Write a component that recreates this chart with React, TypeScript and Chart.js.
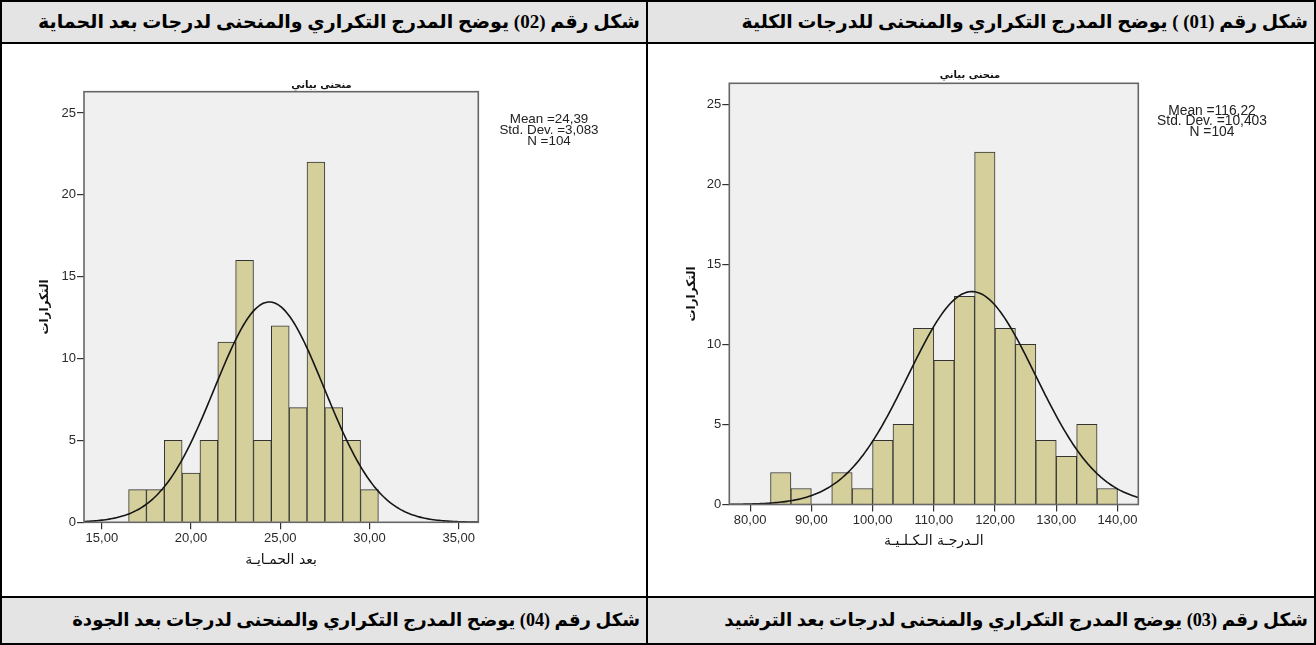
import React, { useEffect, useRef } from "react";
import { Chart, registerables } from "chart.js";

Chart.register(...registerables);

// ---- بعد الحماية (protection dimension), bins of width 1 ----
const PROTECTION_BIN_CENTERS = [17, 18, 19, 20, 21, 22, 23, 24, 25, 26, 27, 28, 29, 30];
const PROTECTION_COUNTS = [2, 2, 5, 3, 5, 11, 16, 5, 12, 7, 22, 7, 5, 2];
const PROTECTION_BIN_WIDTH = 1;
const PROTECTION_MEAN = 24.39;
const PROTECTION_SD = 3.083;
const PROTECTION_N = 104;

// ---- الدرجة الكلية (total score), bins of width 10/3 ----
const TOTAL_BIN_CENTERS = [
  85, 88.3333, 91.6667, 95, 98.3333, 101.6667, 105, 108.3333, 111.6667,
  115, 118.3333, 121.6667, 125, 128.3333, 131.6667, 135, 138.3333,
];
const TOTAL_COUNTS = [2, 1, 0, 2, 1, 4, 5, 11, 9, 13, 22, 11, 10, 4, 3, 5, 1];
const TOTAL_BIN_WIDTH = 10 / 3;
const TOTAL_MEAN = 116.22;
const TOTAL_SD = 10.403;
const TOTAL_N = 104;

// ---- table captions ----
const CAPTION_TOP_LEFT = "شكل رقم (02) يوضح المدرج التكراري والمنحنى لدرجات بعد الحماية";
const CAPTION_TOP_RIGHT = "شكل رقم (01) ) يوضح المدرج التكراري والمنحنى للدرجات الكلية";
const CAPTION_BOTTOM_LEFT = "شكل رقم (04) يوضح المدرج التكراري والمنحنى لدرجات بعد الجودة";
const CAPTION_BOTTOM_RIGHT = "شكل رقم (03) يوضح المدرج التكراري والمنحنى لدرجات بعد الترشيد";

const CHART_TITLE = "منحنى بياني";
const Y_TITLE = "التكرارات";
const PROTECTION_X_TITLE = "بعد الحمـايـة";
const TOTAL_X_TITLE = "الـدرجـة الـكـلـيـة";

const PLOT_BG = "#f0f0f0";
const PLOT_EDGE = "#666666";
const BAR_FILL = "#d4cf9b";
const BAR_EDGE = "#333333";
const HEADER_BG = "#e4e4e4";
const LATIN_FONT = "'Liberation Sans', Arial, sans-serif";
const ARABIC_FONT = "'DejaVu Sans', sans-serif";

const comma = (v: number, d: number) => v.toFixed(d).replace(".", ",");

// Normal curve scaled to the histogram's counts (N * bin width * pdf)
function normalCurve(mean: number, sd: number, n: number, binWidth: number, x0: number, x1: number) {
  const pts: { x: number; y: number }[] = [];
  const steps = 220;
  const k = (n * binWidth) / (sd * Math.sqrt(2 * Math.PI));
  for (let i = 0; i <= steps; i++) {
    const x = x0 + ((x1 - x0) * i) / steps;
    const z = (x - mean) / sd;
    pts.push({ x, y: k * Math.exp(-0.5 * z * z) });
  }
  return pts;
}

type Area = { left: number; top: number; right: number; bottom: number };

type HistProps = {
  bins: number[];
  counts: number[];
  binWidth: number;
  mean: number;
  sd: number;
  n: number;
  xMin: number;
  xMax: number;
  xStep: number;
  yMax: number;
  xTitle: string;
  width: number;
  height: number;
  area: Area;
  yTitleX: number;
  xTitleY: number;
  titleAt: [number, number];
  titleSize: number;
  statsAt: [number, number];
  statsSize: number;
  statsGap: number;
  tickSize: number;
  style: React.CSSProperties;
};

function Histogram(p: HistProps) {
  const ref = useRef<HTMLCanvasElement | null>(null);

  useEffect(() => {
    if (!ref.current) return;
    const curve = normalCurve(p.mean, p.sd, p.n, p.binWidth, p.xMin, p.xMax);
    const statsLines = [
      `Mean =${comma(p.mean, 2)}`,
      `Std. Dev. =${comma(p.sd, 3)}`,
      `N =${p.n}`,
    ];

    const framePlugin = {
      id: "plotFrame",
      beforeDraw(chart: any) {
        const { ctx, chartArea: a } = chart;
        ctx.save();
        ctx.fillStyle = PLOT_BG;
        ctx.fillRect(a.left, a.top, a.right - a.left, a.bottom - a.top);
        ctx.restore();
      },
      afterDatasetsDraw(chart: any) {
        const { ctx, chartArea: a } = chart;
        ctx.save();
        ctx.strokeStyle = PLOT_EDGE;
        ctx.lineWidth = 1.6;
        ctx.strokeRect(a.left, a.top, a.right - a.left, a.bottom - a.top);
        ctx.restore();
      },
    };

    const textPlugin = {
      id: "chartTexts",
      afterDraw(chart: any) {
        const { ctx } = chart;
        ctx.save();
        ctx.fillStyle = "#111";
        ctx.textAlign = "center";
        ctx.textBaseline = "middle";
        ctx.font = `bold ${p.titleSize}px ${ARABIC_FONT}`;
        ctx.fillText(CHART_TITLE, p.titleAt[0], p.titleAt[1]);
        ctx.fillStyle = "#222";
        ctx.font = `${p.statsSize}px ${LATIN_FONT}`;
        statsLines.forEach((s, i) => ctx.fillText(s, p.statsAt[0], p.statsAt[1] + i * p.statsGap));
        ctx.restore();
      },
    };

    const tickFont = { family: LATIN_FONT, size: p.tickSize };
    const xTitleSize = 14;
    const yTitleSize = 12;

    const chart = new Chart(ref.current, {
      type: "bar",
      data: {
        datasets: [
          {
            type: "line",
            data: curve,
            borderColor: "#151515",
            borderWidth: 1.6,
            pointRadius: 0,
            tension: 0,
            fill: false,
            order: 0,
          } as any,
          {
            type: "bar",
            data: p.bins.map((b, i) => ({ x: b, y: p.counts[i] })),
            backgroundColor: BAR_FILL,
            borderColor: BAR_EDGE,
            borderWidth: 1,
            barPercentage: 1,
            categoryPercentage: 1,
            order: 1,
          } as any,
        ],
      },
      options: {
        responsive: false,
        animation: false,
        devicePixelRatio: 1,
        events: [],
        layout: {
          padding: { left: 0, top: p.area.top, right: p.width - p.area.right, bottom: 0 },
        },
        plugins: {
          legend: { display: false },
          tooltip: { enabled: false },
          title: { display: false },
        },
        scales: {
          x: {
            type: "linear",
            min: p.xMin,
            max: p.xMax,
            offset: false,
            afterFit: (s: any) => {
              s.height = p.height - p.area.bottom;
            },
            border: { display: false },
            grid: {
              offset: false,
              drawOnChartArea: false,
              drawTicks: true,
              tickLength: 7,
              color: "#333",
              lineWidth: 1.2,
            },
            ticks: {
              stepSize: p.xStep,
              includeBounds: false,
              padding: 1,
              color: "#2a2a2a",
              font: tickFont,
              maxRotation: 0,
              callback: (v: any) => comma(Number(v), 2),
            },
            title: {
              display: true,
              text: p.xTitle,
              color: "#111",
              font: { family: ARABIC_FONT, size: xTitleSize },
              padding: { top: 0, bottom: p.height - p.xTitleY - (xTitleSize * 1.2) / 2 },
            },
          } as any,
          y: {
            type: "linear",
            min: 0,
            max: p.yMax,
            afterFit: (s: any) => {
              s.width = p.area.left;
            },
            border: { display: false },
            grid: {
              drawOnChartArea: false,
              drawTicks: true,
              tickLength: 7,
              color: "#333",
              lineWidth: 1.2,
            },
            ticks: {
              stepSize: 5,
              includeBounds: false,
              padding: 1,
              color: "#2a2a2a",
              font: tickFont,
              callback: (v: any) => String(v),
            },
            title: {
              display: true,
              text: Y_TITLE,
              color: "#111",
              font: { family: ARABIC_FONT, size: yTitleSize, weight: "bold" },
              padding: { top: p.yTitleX - (yTitleSize * 1.2) / 2, bottom: 0 },
            },
          } as any,
        },
      },
      plugins: [framePlugin, textPlugin],
    });

    return () => chart.destroy();
  }, []);

  return <canvas ref={ref} width={p.width} height={p.height} style={{ position: "absolute", ...p.style }} />;
}

function Caption({ text, left, top, width, height, size }: { text: string; left: number; top: number; width: number; height: number; size: number }) {
  return (
    <div
      style={{
        position: "absolute",
        left,
        top,
        width,
        height,
        background: HEADER_BG,
        direction: "rtl",
        textAlign: "right",
        boxSizing: "border-box",
        paddingRight: 6,
        lineHeight: `${height}px`,
        fontFamily: "'Liberation Serif', 'DejaVu Sans', serif",
        fontWeight: "bold",
        fontSize: size,
        color: "#000",
        whiteSpace: "nowrap",
      }}
    >
      {text}
    </div>
  );
}

function Rule({ x, y, w, h }: { x: number; y: number; w: number; h: number }) {
  return <div style={{ position: "absolute", left: x, top: y, width: w, height: h, background: "#000" }} />;
}

export default function App() {
  return (
    <div style={{ position: "relative", width: 1316, height: 645, background: "#fff", overflow: "hidden" }}>
      <style>{"body{margin:0}"}</style>

      <Caption text={CAPTION_TOP_LEFT} left={2} top={2} width={644} height={40} size={19} />
      <Caption text={CAPTION_TOP_RIGHT} left={648} top={2} width={666} height={40} size={18.8} />
      <Caption text={CAPTION_BOTTOM_LEFT} left={2} top={598} width={644} height={45} size={18.1} />
      <Caption text={CAPTION_BOTTOM_RIGHT} left={648} top={598} width={666} height={45} size={18.3} />

      <Histogram
        bins={PROTECTION_BIN_CENTERS}
        counts={PROTECTION_COUNTS}
        binWidth={PROTECTION_BIN_WIDTH}
        mean={PROTECTION_MEAN}
        sd={PROTECTION_SD}
        n={PROTECTION_N}
        xMin={14}
        xMax={36.1}
        xStep={5}
        yMax={26.3}
        xTitle={PROTECTION_X_TITLE}
        width={640}
        height={550}
        area={{ left: 80, top: 45.7, right: 474.3, bottom: 476.3 }}
        yTitleX={41}
        xTitleY={514}
        titleAt={[317.5, 39]}
        titleSize={10}
        statsAt={[545, 73]}
        statsSize={13.4}
        statsGap={11}
        tickSize={13}
        style={{ left: 4, top: 46 }}
      />

      <Histogram
        bins={TOTAL_BIN_CENTERS}
        counts={TOTAL_COUNTS}
        binWidth={TOTAL_BIN_WIDTH}
        mean={TOTAL_MEAN}
        sd={TOTAL_SD}
        n={TOTAL_N}
        xMin={76.6}
        xMax={143.4}
        xStep={10}
        yMax={26.3}
        xTitle={TOTAL_X_TITLE}
        width={660}
        height={550}
        area={{ left: 77.3, top: 37.3, right: 486.3, bottom: 458.5 }}
        yTitleX={40}
        xTitleY={495.7}
        titleAt={[318, 29]}
        titleSize={10}
        statsAt={[560, 64.7]}
        statsSize={13.8}
        statsGap={10.7}
        tickSize={13}
        style={{ left: 652, top: 46 }}
      />

      {/* table rules */}
      <Rule x={0} y={0} w={1316} h={2} />
      <Rule x={0} y={42} w={1316} h={2} />
      <Rule x={0} y={596} w={1316} h={2} />
      <Rule x={0} y={643} w={1316} h={2} />
      <Rule x={0} y={0} w={2} h={645} />
      <Rule x={646} y={0} w={2} h={645} />
      <Rule x={1314} y={0} w={2} h={645} />
    </div>
  );
}
